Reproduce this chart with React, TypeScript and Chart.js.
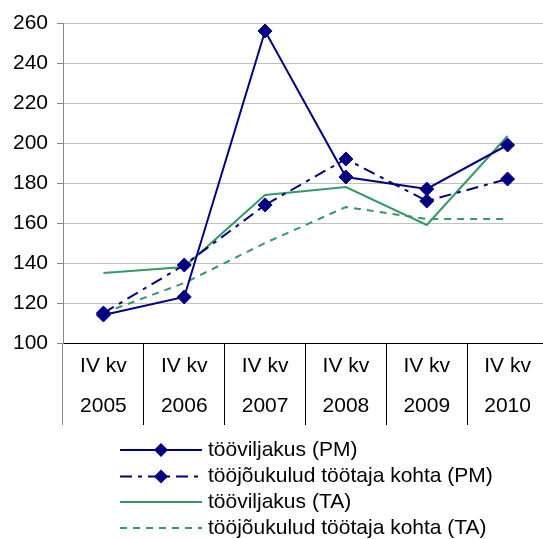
import React, { useEffect, useRef } from "react";
import { Chart, registerables } from "chart.js";

Chart.register(...registerables);

const years = ["2005", "2006", "2007", "2008", "2009", "2010"];
const quarterLabel = "IV kv";
const productivityPM = [114, 123, 256, 183, 177, 199];
const laborCostPM = [115, 139, 169, 192, 171, 182];
const productivityTA = [135, 138, 174, 178, 159, 203.5];
const laborCostTA = [115, 130, 150, 168, 162, 162];
const seriesLabels = [
  "tööviljakus (PM)",
  "tööjõukulud töötaja kohta (PM)",
  "tööviljakus (TA)",
  "tööjõukulud töötaja kohta (TA)",
];
const yMin = 100;
const yMax = 260;
const yStep = 20;

const NAVY = "#000080";
const GREEN = "#339966";
const FONT = '"Liberation Sans", Arial, sans-serif';

const legendPlugin = {
  id: "customLegend",
  afterDraw(chart: any) {
    const ctx = chart.ctx;
    const rows = [450, 476.5, 502, 528];
    const x0 = 120;
    const x1 = 202;
    const tx = 208;
    ctx.save();
    chart.data.datasets.forEach((ds: any, i: number) => {
      const y = rows[i];
      ctx.beginPath();
      ctx.setLineDash(ds.borderDash || []);
      ctx.lineWidth = ds.borderWidth;
      ctx.strokeStyle = ds.borderColor;
      ctx.moveTo(x0, y);
      ctx.lineTo(x1, y);
      ctx.stroke();
      ctx.setLineDash([]);
      if (ds.pointRadius > 0) {
        const r = ds.pointRadius;
        const cx = (x0 + x1) / 2;
        ctx.beginPath();
        ctx.moveTo(cx - r, y);
        ctx.lineTo(cx, y - r);
        ctx.lineTo(cx + r, y);
        ctx.lineTo(cx, y + r);
        ctx.closePath();
        ctx.fillStyle = ds.pointBackgroundColor;
        ctx.fill();
      }
      ctx.fillStyle = "#000";
      ctx.font = `21px ${FONT}`;
      ctx.textAlign = "left";
      ctx.textBaseline = "middle";
      ctx.fillText(ds.label, tx, y);
    });
    ctx.restore();
  },
};

export default function App() {
  const ref = useRef<HTMLCanvasElement | null>(null);

  useEffect(() => {
    if (!ref.current) return;
    const chart = new Chart(ref.current, {
      type: "line",
      data: {
        labels: years.map((y) => [quarterLabel, y]),
        datasets: [
          {
            label: seriesLabels[0],
            data: productivityPM,
            borderColor: NAVY,
            backgroundColor: NAVY,
            borderWidth: 2,
            pointStyle: "rectRot",
            pointRadius: 7,
            pointBackgroundColor: NAVY,
            pointBorderColor: NAVY,
            pointBorderWidth: 1,
            tension: 0,
          },
          {
            label: seriesLabels[1],
            data: laborCostPM,
            borderColor: NAVY,
            backgroundColor: NAVY,
            borderWidth: 2,
            borderDash: [12, 6, 4, 6],
            pointStyle: "rectRot",
            pointRadius: 7,
            pointBackgroundColor: NAVY,
            pointBorderColor: NAVY,
            pointBorderWidth: 1,
            tension: 0,
          },
          {
            label: seriesLabels[2],
            data: productivityTA,
            borderColor: GREEN,
            backgroundColor: GREEN,
            borderWidth: 2,
            pointRadius: 0,
            tension: 0,
          },
          {
            label: seriesLabels[3],
            data: laborCostTA,
            borderColor: GREEN,
            backgroundColor: GREEN,
            borderWidth: 2,
            borderDash: [7, 6],
            pointRadius: 0,
            tension: 0,
          },
        ],
      },
      options: {
        responsive: false,
        maintainAspectRatio: false,
        animation: false,
        layout: { padding: { top: 23, right: 2, bottom: 114, left: 0 } },
        plugins: {
          legend: { display: false },
          tooltip: { enabled: false },
        },
        scales: {
          x: {
            type: "category",
            offset: true,
            grid: {
              offset: true,
              drawOnChartArea: false,
              drawTicks: true,
              tickLength: 82,
              color: (c: any) => (c.index === 0 ? "#888888" : "#000000"),
              lineWidth: 1,
            },
            border: { display: true, color: "#000000", width: 1 },
            ticks: {
              color: "#000",
              padding: -79,
              maxRotation: 0,
              autoSkip: false,
              font: { family: FONT, size: 21, lineHeight: "40px" },
            },
            afterFit: (s: any) => {
              s.height = 82;
            },
          },
          y: {
            min: yMin,
            max: yMax,
            grid: {
              color: (c: any) =>
                c.tick && c.tick.value === yMin ? "rgba(0,0,0,0)" : "#c0c0c0",
              tickColor: "#888888",
              tickLength: 6,
              lineWidth: 1,
            },
            border: { display: true, color: "#888888", width: 1 },
            ticks: {
              stepSize: yStep,
              color: "#000",
              padding: 9,
              font: { family: FONT, size: 21 },
            },
            afterFit: (s: any) => {
              s.width = 63;
            },
          },
        },
      },
      plugins: [legendPlugin],
    });
    return () => chart.destroy();
  }, []);

  return (
    <div
      style={{
        position: "fixed",
        left: 0,
        top: 0,
        width: 543,
        height: 539,
        overflow: "hidden",
        background: "#fff",
      }}
    >
      <canvas ref={ref} width={556} height={539} style={{ display: "block" }} />
    </div>
  );
}
